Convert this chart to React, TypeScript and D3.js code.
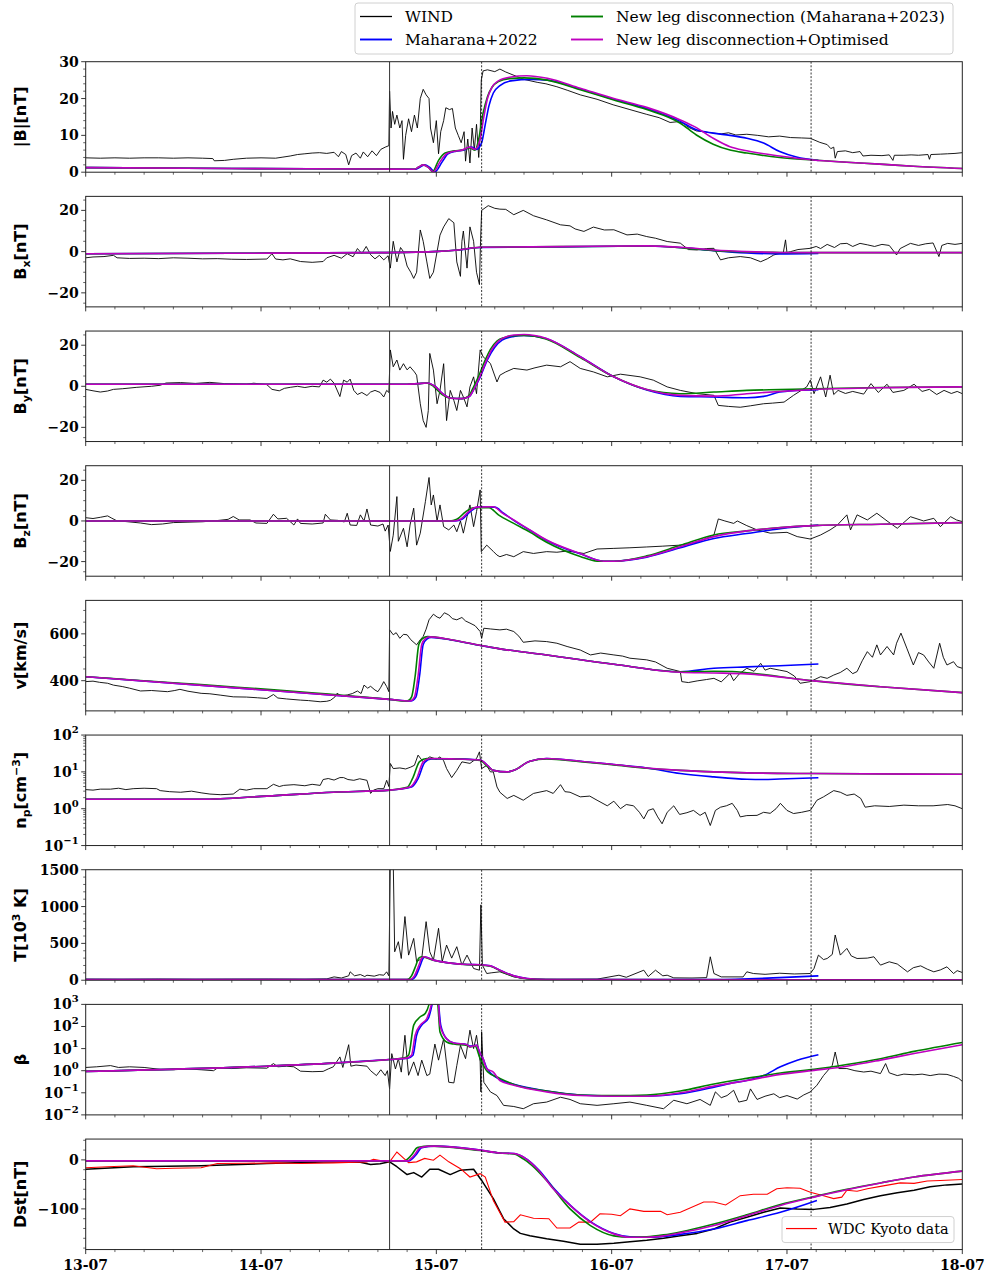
import React from 'react';
import * as d3 from 'd3';

type P = [number, number][];

// ---------- axis / annotation values ----------
const dayLabels = ['13-07', '14-07', '15-07', '16-07', '17-07', '18-07'];
const shockHour = 41.6;
const mcStartHour = 54.2;
const mcEndHour = 99.3;

// ---------- |B| ----------
const bWind: P = [[0,3.9],[2,3.8],[4,3.9],[6,3.8],[8,3.9],[10,3.9],[12,3.8],[14,3.9],[16,3.8],[17.4,3.7],[17.6,3.1],[19,3.2],[20.2,3.5],[22,3.8],[24,3.9],[26,3.8],[27,4.1],[28,4.4],[29,4.8],[30,5.0],[31,5.2],[32,5.3],[33,5.1],[34,5.4],[34.6,4.2],[35,5.6],[35.6,4.8],[36,2.0],[36.4,4.5],[37,5.2],[37.6,3.8],[38,5.5],[38.6,4.2],[39.2,5.8],[39.8,4.5],[40.4,6.2],[41,6.8],[41.5,7.2],[41.6,22],[41.8,12],[42,16.5],[42.3,13],[42.6,15.5],[43,12],[43.3,14],[43.5,3.5],[43.8,10],[44.2,14.5],[44.6,11],[45,15.5],[45.4,12],[45.8,20],[46.2,22.5],[46.6,21],[47,20],[47.2,12],[47.6,8],[48,14],[48.3,5],[48.6,11],[49,14],[49.3,17.5],[49.8,17],[50.2,17.3],[50.6,12],[51,10],[51.4,8],[51.8,11],[52,3],[52.3,9],[52.6,2.5],[52.9,12],[53.2,6],[53.5,13],[53.8,4],[54,10],[54.15,25],[54.4,27.5],[55,27.8],[56,27.3],[56.7,28],[57.5,27.2],[58.5,26.4],[60,25.2],[61.8,24.4],[63,24],[64.5,23.2],[66,22.2],[67.7,21],[70,19.8],[72.2,18.3],[74.5,17],[76.8,15.7],[78.5,14.8],[80,13.5],[81,13.7],[81.8,13.3],[82.5,12.2],[83.6,11.2],[84.5,11],[85.9,10.6],[87,10.4],[88,10.7],[89,10.1],[90.5,10.3],[92,10],[93.5,9.6],[95,9.8],[96.5,9.4],[98,9.3],[99.2,9.2],[100.5,8.1],[101.5,7.5],[102,6.4],[102.4,6.8],[102.6,3.8],[102.9,5.6],[104,5.8],[105,5.3],[106,5.6],[106.4,4.4],[107.5,4.6],[109,4.5],[110,4.7],[110.5,3.2],[110.7,4.6],[112,4.6],[113,4.7],[114,4.6],[115.3,4.8],[115.5,3.5],[115.7,4.8],[117,4.9],[118,5.0],[119,5.1],[120,5.3]];
const bM22: P = [[0,1.25],[20,1.0],[40,0.85],[45.2,0.8],[45.8,1.4],[46.4,2.0],[47.1,1.3],[47.8,0.1],[48.8,2.8],[49.6,5.0],[50.7,5.7],[51.7,6.0],[52.8,6.8],[53.5,6.2],[54.2,8],[54.7,13],[55.2,18],[55.8,21.5],[56.7,23.5],[58.2,24.8],[61,25.2],[63.2,25],[67.7,22.6],[72.3,19.8],[76.8,17.3],[81.4,13.8],[83.6,11.5],[85.9,10.6],[88.2,10],[90.5,9.2],[92.8,7.9],[95,5.6],[97.3,4.1],[100.3,3.2]];
const bLeg23: P = [[0,1.25],[20,1.0],[40,0.85],[45,0.8],[45.6,1.4],[46.2,2.0],[46.9,1.3],[47.5,0.2],[48.3,3.2],[49.2,5.2],[50.5,5.8],[51.5,6.0],[52.6,6.6],[53.3,6.0],[53.8,9],[54.4,16],[55,20.5],[55.6,23],[56.5,24.6],[58,25.4],[60,25.6],[63.2,25],[67.7,22.4],[72.3,19.6],[76.8,17],[81.4,13.3],[83.6,10.1],[85.9,7.6],[88.2,6.0],[90.5,5.2],[95,4.0],[99.6,3.3],[104.2,2.7],[108.7,2.2],[113.3,1.6],[120,1.0]];
const bOpt: P = [[0,1.25],[20,1.0],[40,0.85],[45,0.8],[45.6,1.4],[46.2,2.0],[46.9,1.3],[47.6,0.1],[48.5,2.8],[49.4,5.0],[50.5,5.7],[51.5,6.0],[52.6,6.8],[53.3,6.2],[54,9],[54.5,15],[55,20],[55.6,23],[56.5,24.8],[58,25.8],[60.4,26.2],[63.2,25.5],[67.7,22.8],[72.3,20],[76.8,17.6],[81.4,14.2],[83.6,12.1],[85.9,9.2],[88.2,6.9],[90.5,5.8],[95,4.4],[99.6,3.3],[104.2,2.7],[108.7,2.2],[113.3,1.6],[120,1.0]];

// ---------- Bx ----------
const bxWind: P = [[0,-3],[1,-2.6],[2.5,-2.4],[3.8,-1.8],[4.3,-3],[6,-3.3],[8,-3.2],[10,-3.4],[12,-3],[14,-3.2],[16,-3.5],[18,-3.4],[20,-3.7],[22,-3.8],[24.8,-3.6],[25.5,-1],[26,-3.6],[27,-4],[28,-3.5],[29.4,-4.8],[31,-5.2],[32.5,-4.8],[33,-3],[34,-1.8],[35,-3.2],[35.8,-1],[36.6,-2.5],[37.2,1.5],[37.8,-1],[38.4,2.5],[39,-1.5],[39.6,-3.5],[40.2,-1.8],[40.8,-4],[41.4,-2],[41.7,-8],[42.1,5],[42.6,-5],[43.1,2],[43.5,0],[44,-7],[44.5,-10],[44.9,-13],[45.3,-10],[45.8,10.5],[46.2,5],[46.7,-5],[47.1,-13],[47.6,-10],[48.1,0],[48.5,8],[49,12],[49.7,16],[50.4,14],[50.8,-5],[51.3,-12],[51.5,5],[51.7,10],[52.2,-8],[52.6,12],[53.1,5],[53.5,-10],[53.9,-16],[54.05,5],[54.2,20],[55.1,22.3],[56,21],[56.7,20.6],[57.5,20.5],[58.6,17.9],[59.9,20],[61.3,17.4],[63.1,15.4],[65,13],[66.3,12.5],[67,11],[68.2,9.8],[69.5,11.9],[71,10.5],[72.3,10.6],[74.1,8.1],[75.5,8.5],[76.8,7.3],[78,6.5],[79.6,4.9],[81.4,4.1],[82.5,1],[83.7,0.8],[85,1.5],[86,1.6],[86.9,-4],[88,-3],[89.6,-2.4],[91,-3],[92.4,-4.9],[93.3,-3.5],[94.2,-1.6],[95.5,-0.5],[95.8,5.7],[96,-0.5],[96.5,0],[97.5,1],[99.2,1.6],[100,2.5],[100.6,1.5],[101.5,3.5],[102.5,2],[103.3,3.8],[104.2,4],[105,2.5],[106,4],[107,3.3],[108,2.5],[109,3.5],[110,3],[111,-1.6],[111.5,1.5],[112.9,4],[114,3],[115,3.8],[116,4.2],[116.8,-2.4],[117.2,3],[118,4],[119,3.5],[120,4]];
const bxM22: P = [[0,-1],[20,-0.8],[40,-0.5],[47.6,0],[51,0.8],[54,2.0],[65,2.3],[77,2.7],[82,1.8],[86,0.5],[90.5,-0.6],[95,-1.1],[100.3,-0.9]];
const bxLeg23: P = [[0,-1],[20,-0.8],[40,-0.5],[47.6,0],[51,0.8],[54,2.1],[65,2.4],[77,2.7],[82,1.7],[86,0.5],[90.5,-0.2],[95,-0.4],[100,-0.5],[120,-0.5]];
const bxOpt: P = [[0,-1],[20,-0.8],[40,-0.5],[47.6,0],[51,0.8],[54,2.1],[65,2.4],[77,2.8],[82,2],[86,0.8],[90.5,0],[95,-0.4],[100,-0.5],[120,-0.5]];

// ---------- By ----------
const byWind: P = [[0,-1.5],[1,-2.2],[2,-2.8],[3,-2.3],[3.8,-1.5],[5,-1.2],[7,-0.5],[9,0],[10.2,0.5],[11,1.6],[13,1.8],[15,1.4],[17,1.9],[19,1.3],[20.2,1.2],[22,1],[23,1.5],[24.8,0.8],[25.5,-1.5],[26.5,-2.2],[27.2,-1],[28,-0.5],[29,0],[30,-0.6],[31,0],[32,-0.3],[32.5,3],[33,2],[33.5,3.5],[34,1.5],[34.8,-5],[35.3,3],[35.8,2],[36.2,3.5],[36.7,-2],[37.2,-4],[37.8,-3],[38.5,-4.5],[39,-2.8],[39.6,-2],[40.3,-3],[40.8,-5.2],[41.2,-2],[41.5,-3],[41.7,17.7],[42.1,9.5],[42.6,12.8],[43,7.9],[43.5,11],[44,8],[44.4,9.5],[45,7],[45.3,5.4],[45.8,-8.5],[46.2,-16.7],[46.6,-20],[46.9,-11.8],[47.1,16],[47.6,7.9],[48.1,-8.5],[48.5,-2],[49,11],[49.4,-16.7],[49.9,-2],[50.4,-6.9],[50.8,-11.8],[51.3,-2],[51.7,-5.2],[52.2,-10],[52.6,-0.3],[53.1,4.6],[53.5,-3.6],[54,17.7],[54.4,14.4],[55.4,11.1],[56.3,2.1],[56.7,5.4],[57.5,7],[58.6,8.7],[60.4,7.9],[61.5,9],[63.1,10.3],[65,9.5],[66.3,12],[67.7,8.7],[69.5,7],[71.4,4.6],[73.2,5.9],[75.9,4.6],[77.7,3],[79.6,-0.3],[81.4,-2],[83.7,-3.6],[86,-4.4],[86.6,-9.3],[88,-9.8],[89.6,-10.2],[91,-9.5],[92.8,-8.5],[94,-8.2],[95.6,-7.7],[96.9,-4.4],[98.7,-0.3],[99.2,3],[99.7,-3.6],[100.6,4.6],[101.3,-5.2],[101.9,5.4],[102.4,-4],[103,-2],[104,-3.5],[105,-2.5],[106.5,-3.8],[107.5,1.3],[108.5,-3],[109.7,1],[110.5,-3],[112,-2],[113.4,1],[114.5,-2.5],[115.5,-1.5],[116.5,-4],[117.5,-2],[118.5,-3.5],[119.3,-2.5],[120,-3.6]];
const byM22: P = [[0,1],[44,1],[45.5,1.3],[46.7,1.6],[47.8,0],[49,-4],[50,-5.8],[51.5,-6],[52.5,-5],[53.2,-1],[54,4.5],[55,13],[56,19],[57,22.5],[58.6,24.3],[60,24.8],[63,23.3],[67.7,14.4],[72.3,4.6],[76.8,-1.8],[81.4,-4.9],[86,-5.2],[90.5,-5.6],[92.8,-4.9],[95,-2.8],[97.3,-2],[100.3,-1.6]];
const byLeg23: P = [[0,1],[44,1],[45.5,1.3],[46.7,1.6],[47.6,0],[48.8,-4],[50,-5.8],[51.5,-6],[52.5,-4.5],[53,-1],[53.8,5],[54.6,12],[55.4,18],[56.3,22],[57.4,23.8],[58.6,24.6],[60,24.7],[63,23],[67.7,14],[72.3,4.6],[76.8,-1.6],[81.4,-3.6],[86,-2.8],[90.5,-2],[95,-1.6],[99.7,-1.2],[108.8,-0.6],[120,-0.3]];
const byOpt: P = [[0,1],[44,1],[45.5,1.3],[46.7,1.6],[47.8,0],[49,-4],[50,-5.8],[51.5,-6],[52.5,-5],[53.2,-1],[54,5],[54.8,12],[55.6,18],[56.5,22],[57.5,24],[58.6,25],[60,25.2],[63,23.4],[67.7,14.4],[72.3,4.6],[76.8,-1.6],[81.4,-4.4],[86,-4.8],[90.5,-3.6],[95,-2.5],[99.7,-1.6],[108.8,-0.7],[120,-0.3]];

// ---------- Bz ----------
const bzWind: P = [[0,1.6],[1,1.2],[2,1.8],[3,2.5],[3.5,1.5],[4.3,0],[5.5,-0.3],[7.5,-1],[9,-1.8],[10.5,-1.5],[12,-0.8],[14,-0.6],[16,-0.4],[18,0.2],[19.5,0.8],[20.2,2.2],[21,0.5],[22.5,0.5],[23.3,-1],[24.8,-1.2],[25.7,3.3],[26.3,1],[27.5,1.3],[28.5,-2],[29,1],[29.4,-1.2],[31,-1.5],[32.5,-1],[32.8,3.3],[33.5,0.5],[34.5,0.3],[35.4,-0.5],[35.8,3.8],[36.2,-2],[37.1,-2.2],[37.6,3],[38.1,0],[38.5,5.9],[39,-2],[40,-2.5],[40.7,-1.5],[41,-5],[41.4,-2],[41.7,-15],[42.1,-7],[42.6,12],[42.8,-10],[43.5,-3.6],[44,-12.7],[44.4,-2],[44.9,6.3],[45.3,-11.9],[45.8,-6],[46.5,9.5],[47,21.4],[47.3,7.9],[47.6,12.8],[48.1,0],[48.5,7.9],[49,-2.8],[49.7,-4.4],[50.4,-2],[50.8,-5.3],[51.3,0],[51.7,-6],[52.2,2.1],[52.6,7.9],[53.1,-2.8],[53.5,4.6],[54,15.3],[54.15,-15.1],[54.9,-11.9],[55.8,-15],[56.3,-16.8],[56.7,-17.6],[57.6,-16.5],[58.6,-17.6],[59.9,-15.1],[61.3,-16],[63.1,-15.1],[64.5,-15.4],[65.9,-14.8],[68.2,-16],[70,-13.8],[72.3,-13.5],[74.5,-13.2],[76.8,-12.8],[79,-12.4],[81.4,-11.9],[83.7,-10.5],[86,-6.9],[86.6,1],[87.5,0],[88.7,-1.2],[89.2,0],[90.5,-2.3],[91.9,-4.4],[93.7,-6],[96,-5.6],[97.4,-7.7],[99.2,-8.9],[100.6,-6.9],[101.9,-4.4],[102.9,-2],[104.2,3],[104.7,-4.4],[105.6,3],[107,0.5],[108.3,3.8],[109.7,0],[111.1,-3.6],[112.9,2.1],[114.7,0],[116.1,1.3],[117,-2.8],[118.4,2.1],[119.2,0.5],[120,-0.3]];
const bzM22: P = [[0,0],[50.6,0],[51.5,0.8],[52.6,4.5],[53.7,6.8],[56,6.8],[57.2,3.8],[58.6,0.3],[60.8,-4.6],[63.1,-9.6],[67.7,-16.2],[70.9,-19.8],[72.3,-19.8],[76.8,-17.8],[81.4,-13.2],[86,-8.6],[90.5,-6.2],[95.1,-3.8],[100.3,-2]];
const bzLeg23: P = [[0,0],[49.8,0],[50.8,0.8],[52,4.5],[53.1,6.5],[55.2,6.5],[56.5,3],[58.6,-1.2],[60.8,-5.5],[63.1,-10.5],[67.7,-17.5],[70,-19.8],[72.3,-19.8],[76.8,-17.2],[81.4,-12],[86,-6.9],[90.5,-4.9],[95.1,-3.3],[99.7,-2.3],[108.8,-1.6],[120,-0.8]];
const bzOpt: P = [[0,0],[50.4,0],[51.3,0.8],[52.4,4.5],[53.5,6.8],[55.8,7],[57,4],[58.6,0.5],[60.8,-4.4],[63.1,-9.4],[67.7,-16],[70.9,-19.8],[72.3,-19.8],[76.8,-17.6],[81.4,-12.7],[86,-7.7],[90.5,-4.9],[95.1,-3.3],[99.7,-2.3],[108.8,-1.6],[120,-0.8]];

// ---------- v ----------
const vWind: P = [[0,396],[1,398],[1.9,393],[3,389],[3.8,381],[5,375],[6,368],[7.5,356],[9,358],[11.2,353],[12.2,358],[12.9,363],[14,355],[15.8,346],[17,344],[18.5,338],[20.2,331],[22,330],[23.5,327],[24.8,324],[25.7,341],[26.3,326],[27.5,322],[29.4,317],[30.5,315],[32.1,310],[33,312],[33.5,316],[34.1,330],[34.4,346],[35,335],[35.8,339],[36.5,345],[37.2,356],[37.7,345],[38.1,381],[38.6,368],[39,376],[39.6,360],[40,353],[40.4,372],[40.8,396],[41.2,375],[41.5,353],[41.6,617],[42.1,596],[42.5,605],[43,581],[43.5,598],[44,596],[44.5,575],[45.3,553],[45.8,575],[46.2,589],[46.6,620],[47,660],[47.6,684],[48.1,672],[48.5,667],[49.1,690],[49.7,681],[50.2,665],[50.8,660],[51.5,670],[52,655],[52.6,646],[53.3,635],[54,610],[54.2,581],[54.5,624],[55.4,621],[56.7,617],[57.6,620],[58.6,610],[59.3,590],[59.9,564],[61.5,570],[63.1,567],[64.5,560],[65.9,546],[67.7,531],[69.1,510],[70.5,518],[72.3,510],[73.5,505],[74.5,496],[76.8,489],[78,480],[79.6,453],[81.4,439],[81.6,396],[82.5,392],[83.7,399],[85,405],[86,410],[87,395],[88.2,431],[88.7,400],[89.5,430],[90.5,453],[91.5,440],[92.4,474],[93,445],[93.7,453],[95,445],[96,439],[97,420],[97.8,389],[99.2,396],[100.6,417],[101.5,410],[102.4,424],[103.3,435],[104.2,453],[105,430],[105.6,439],[106.3,485],[107,524],[107.7,500],[108.3,553],[108.8,510],[109.7,546],[110.6,510],[111,560],[111.6,603],[112.4,539],[113.3,467],[114,520],[114.7,510],[115.4,480],[116.1,453],[116.9,560],[117.4,500],[117.9,467],[118.8,481],[119.3,460],[120,453]];
const vM22: P = [[0,417],[41.6,320],[44.5,313],[45.2,330],[45.7,420],[46.2,555],[46.7,578],[47.3,585],[50,574],[54.1,550],[56.7,536],[63.1,510],[72.3,470],[81.4,438],[86,453],[90.5,459],[95,464],[100.3,471]];
const vLeg23: P = [[0,417],[41.6,320],[44,313],[44.6,330],[45.1,420],[45.6,555],[46.1,580],[46.8,588],[50,575],[54.1,550],[56.7,536],[63.1,510],[72.3,470],[81.4,438],[86,440],[88.5,439],[90.5,434],[99.7,399],[108.8,374],[120,349]];
const vOpt: P = [[0,417],[41.6,320],[44.4,313],[45,330],[45.5,420],[46,555],[46.5,580],[47.1,587],[50,575],[54.1,550],[56.7,536],[63.1,510],[72.3,470],[81.4,436],[86,433],[90.5,429],[99.7,399],[108.8,374],[120,349]];

// ---------- np ----------
const npWind: P = [[0,3.3],[1,3.2],[2,3.4],[3.4,3.4],[4.5,3.6],[5.5,3.3],[6.5,3.5],[8,3.6],[9.7,3.5],[10.2,3.1],[11.5,2.9],[13,2.8],[14.5,3.0],[15.8,2.7],[17,2.5],[18.5,2.4],[20.2,2.5],[21.1,3.4],[22,3.2],[23,3.5],[24.8,3.5],[25.7,4.6],[26.5,4.0],[27.1,4.3],[28.5,4.5],[30,4.2],[31,4.6],[32.1,4.3],[32.5,6.2],[33.2,6.6],[34,6.0],[34.8,7.0],[35.3,7.0],[35.9,6.2],[36.7,5.9],[37.5,6.5],[38.5,5.9],[39,2.6],[39.4,3.2],[40,3.5],[40.8,3.5],[41.2,5.9],[41.5,4],[41.7,16.9],[42.1,12.3],[43,12.8],[43.8,12],[44.5,13.5],[45,15.1],[45.5,28.5],[46.2,18.7],[47.1,25.6],[48,22],[48.5,25.6],[49,20],[49.4,12.3],[50.1,7],[50.8,11],[51.5,18.7],[52.6,17],[53.5,23],[53.9,35],[54.2,12.3],[54.9,15],[55.4,10],[55.8,10],[56.3,3.9],[56.7,2.8],[57.7,1.9],[58.6,2.3],[59.9,1.7],[61.3,2.6],[63.1,3.1],[64,2.6],[65,4.5],[65.6,2.9],[66.3,2.8],[67.7,2.1],[69,2.2],[70,1.7],[71.4,1.2],[72.3,1.6],[73.2,1.0],[74,1.3],[75,1.2],[75.8,0.8],[76.4,0.53],[77,0.9],[77.7,1.0],[78.3,0.6],[78.9,0.39],[79.6,0.8],[80.5,1.2],[81.3,0.7],[82.3,0.78],[83.2,0.9],[84.1,0.66],[84.8,0.8],[85.5,0.35],[86.2,0.9],[86.9,1.1],[87.7,1.2],[88.5,1.4],[89.2,0.9],[89.6,0.6],[90.5,0.65],[91.9,0.66],[92.8,0.8],[93.7,0.75],[94.5,1.0],[95.1,1.4],[96,0.9],[96.9,0.74],[98,0.8],[99.2,0.9],[100.1,1.7],[101,2.1],[102.4,3.1],[103.3,2.8],[104.2,2.3],[105.2,2.5],[106.1,1.9],[106.7,1.1],[108,1.2],[110,1.15],[112,1.25],[114,1.2],[116,1.2],[118,1.3],[119,1.2],[120,1.0]];
const npM22: P = [[0,1.8],[15.8,1.8],[24.8,2.2],[33.9,2.8],[41.6,3.2],[44.6,3.9],[45.5,6.6],[46.4,18],[47.3,22.5],[50,22.5],[54,21],[55,15],[55.8,11],[57.7,10],[58.6,11],[60.8,19.5],[63.1,23],[67.7,19.5],[72.3,15.8],[76.8,12.8],[81.4,9],[86,7.3],[90.5,6.3],[92.8,6.2],[95,6.4],[100.3,6.9]];
const npLeg23: P = [[0,1.8],[15.8,1.8],[24.8,2.2],[33.9,2.8],[41.6,3.2],[44,3.8],[44.8,7],[45.7,19],[46.7,23],[50,22.5],[54,20.5],[55,14],[55.8,11],[57.7,10],[58.6,11],[60.8,19.5],[63.1,22.5],[67.7,19],[72.3,15.5],[76.8,12.6],[81.4,11],[86,10],[90.5,9.4],[99.7,9],[120,8.6]];
const npOpt: P = [[0,1.8],[15.8,1.8],[24.8,2.2],[33.9,2.8],[41.6,3.2],[44.4,3.9],[45.3,6.6],[46.2,18.7],[47.1,23],[50,22.5],[54,21],[55,15],[55.8,11],[57.7,10],[58.6,11],[60.8,19.5],[63.1,23],[67.7,19.5],[72.3,15.8],[76.8,12.8],[81.4,11],[86,10],[90.5,9.4],[99.7,9],[120,8.6]];

// ---------- T (10^3 K) ----------
const tWind: P = [[0,14],[5,12],[10,15],[15,12],[20,14],[25,15],[30,13],[33,18],[34,45],[35,30],[36,60],[36.2,114],[36.8,60],[37.6,77],[38.2,50],[38.5,68],[39.5,55],[40.2,75],[40.8,68],[41.2,114],[41.5,60],[41.7,1600],[42.1,1600],[42.3,386],[42.8,523],[43.2,295],[43.7,864],[44.2,341],[44.9,568],[45.3,250],[46,295],[46.6,795],[47.1,386],[47.6,273],[48.3,705],[48.8,250],[49.4,477],[50.1,300],[50.8,455],[51.5,205],[52.2,341],[53.1,159],[53.9,136],[54.1,1023],[54.3,205],[54.9,91],[55.5,100],[56.7,114],[58.6,45],[61,14],[65,12],[70,15],[73,68],[74,40],[76.4,136],[77,50],[78,136],[79,60],[79.6,68],[80.5,32],[83,30],[85,35],[85.5,318],[86,91],[87,45],[90,45],[90.5,114],[91.4,91],[93,80],[95,95],[97,85],[99.2,91],[99.7,159],[100.3,341],[101,280],[101.5,295],[102.2,350],[102.6,614],[103.3,341],[104.2,432],[104.8,330],[105.6,295],[107,300],[107.9,318],[108.8,205],[110,250],[111.1,220],[112.5,114],[113.3,170],[114.3,195],[115.2,150],[116.1,114],[117,140],[117.9,182],[118.8,91],[119.3,130],[120,105]];
const tM22: P = [[0,10],[44.6,10],[45.2,60],[45.8,200],[46.2,300],[46.5,315],[47.6,273],[52.2,214],[54,210],[55.4,195],[56.7,136],[58.6,59],[60.4,23],[63,9],[86,10],[95,35],[100.3,59]];
const tLeg23: P = [[0,10],[44,10],[44.6,60],[45.2,200],[45.6,300],[46,318],[47.6,270],[52.2,212],[54,205],[55.4,190],[56.7,130],[58.6,55],[60.4,20],[63,9],[100,5],[120,5]];
const tOpt: P = [[0,10],[44.4,10],[45,60],[45.6,200],[46,300],[46.3,318],[47.6,273],[52.2,214],[54,210],[55.4,195],[56.7,136],[58.6,59],[60.4,23],[63,9],[100,5],[120,5]];

// ---------- beta ----------
const betaWind: P = [[0,1.4],[1.5,1.5],[3.4,1.7],[4.5,1.4],[6,1.5],[8,1.4],[10.2,1.15],[12,1.1],[14,1.2],[15.8,1.1],[17.5,1.0],[18,1.3],[20,1.25],[22,1.35],[24.8,1.3],[25.7,2.1],[26.3,1.5],[27.5,1.6],[28.5,1.5],[29.4,0.95],[31,0.9],[32.5,0.93],[33.2,1.2],[33.9,1.5],[34.8,4.2],[35.2,1.4],[36,15],[36.3,1.6],[37,1.8],[38.5,1.6],[39,1.0],[39.8,0.6],[40.4,1.1],[41,0.6],[41.3,1.0],[41.6,0.15],[41.9,5.9],[42.4,1.2],[42.8,3.5],[43.2,0.86],[43.7,40],[44.2,0.62],[44.9,2.5],[45.5,0.6],[46,3],[46.7,0.6],[47.1,0.7],[47.8,16],[48.3,3],[49,28],[49.7,0.3],[50.4,0.28],[50.8,1.7],[51.3,14],[52,3.5],[52.6,68],[53.1,10],[53.5,40],[54,2.5],[54.1,0.11],[54.2,57],[54.5,0.3],[55.4,0.11],[56.3,0.075],[57.2,0.027],[58.6,0.024],[59.9,0.019],[61.3,0.032],[63.1,0.038],[65,0.063],[66.3,0.05],[67.7,0.032],[70,0.027],[72.3,0.032],[74.5,0.038],[76.8,0.027],[79.1,0.019],[80.5,0.046],[82.3,0.032],[84.1,0.05],[85.5,0.027],[86.2,0.11],[87,0.06],[87.8,0.075],[88.7,0.13],[89.4,0.038],[90.5,0.046],[91,0.15],[91.9,0.05],[93,0.07],[94.2,0.09],[95,0.06],[96,0.075],[97.4,0.052],[98.3,0.08],[99.2,0.11],[100.1,0.22],[101,0.6],[102.2,1.75],[102.6,7],[103.1,1.25],[104.2,1.25],[105.3,1.0],[106.5,0.87],[107.5,0.95],[108.8,0.74],[109.5,2.1],[110,0.8],[111.1,0.6],[112,0.7],[113.4,0.65],[114.5,0.7],[115.6,0.6],[116.8,0.7],[117.9,0.68],[118.8,0.55],[119.5,0.45],[120,0.33]];
const betaM22: P = [[0,0.93],[24.8,1.6],[33.9,2.2],[41.6,3.2],[44.1,3.7],[44.8,5],[45.3,40],[46,115],[46.9,230],[47.4,930],[47.7,3000],[48,3000],[48.3,1000],[48.6,115],[49.4,28],[50.4,18],[52.2,15],[52.6,13],[53.5,14],[54,6],[54.4,3.5],[54.9,1.3],[56.7,0.4],[58.6,0.24],[63.1,0.12],[67.7,0.08],[72.3,0.072],[76.8,0.07],[81.4,0.09],[86,0.18],[88.5,0.28],[90.5,0.36],[92.8,0.6],[95.1,1.5],[97.4,3.0],[100.3,5.3]];
const betaLeg23: P = [[0,0.93],[24.8,1.6],[33.9,2.2],[41.6,3.2],[43.5,3.7],[44.2,5],[44.9,115],[45.8,275],[46.5,400],[47,1000],[47.3,3000],[47.9,3000],[48.2,1000],[48.5,57],[49.4,20],[50.4,16],[52.2,14],[52.6,12],[53.3,13],[54,3.5],[55,0.9],[56.7,0.45],[58.6,0.24],[63.1,0.12],[67.7,0.08],[72.3,0.075],[76.8,0.08],[81.4,0.12],[86,0.25],[90.5,0.45],[95.1,0.78],[99.7,1.15],[104.2,1.9],[108.8,3.5],[113.4,7.5],[120,19]];
const betaOpt: P = [[0,0.93],[24.8,1.6],[33.9,2.2],[41.6,3.2],[43.9,3.7],[44.6,5],[45.1,40],[45.8,115],[46.7,230],[47.3,930],[47.6,3000],[48,3000],[48.3,1000],[48.5,115],[49.4,28],[50.4,18],[52.2,15],[52.6,12],[53.5,14],[54,6],[54.4,3.5],[54.9,1.2],[55.8,0.87],[56.7,0.36],[58.6,0.22],[63.1,0.11],[67.7,0.075],[72.3,0.07],[76.8,0.07],[81.4,0.1],[86,0.2],[90.5,0.36],[95.1,0.68],[99.7,1.03],[104.2,1.6],[108.8,3.0],[113.4,6],[120,15]];

// ---------- Dst ----------
const dstWind: P = [[0,-19],[6.5,-14],[15.8,-12],[24.8,-7.5],[33.9,-4],[37.6,-5],[39,-9.6],[40.3,-8],[41.6,-4],[42.6,-14],[44,-30],[44.9,-26],[46,-35],[47.1,-19],[48.3,-19],[49.9,-30],[51.3,-21],[53.1,-19],[54.2,-42],[55.8,-79],[57.2,-120],[58.6,-141],[59.5,-150],[60.8,-155],[63.1,-161],[65.4,-166],[67.7,-172],[70,-172],[72.3,-170],[74.5,-167],[76.8,-164],[79.1,-160],[81.4,-155],[83.7,-150],[86,-141],[88.2,-127],[90.5,-117],[92.8,-107],[95.1,-98],[97.4,-100],[99.7,-101],[101.9,-97],[104.2,-90],[106.5,-81],[108.8,-73],[111.1,-67],[113.4,-62],[115.6,-55],[117.9,-51],[120,-49]];
const dstKyoto: P = [[0,-16],[3,-14],[6.5,-12],[9.7,-18],[12,-17],[15.8,-16],[18,-7.5],[22,-7],[26,-6],[29.4,-7.5],[33.9,-6],[36,-5],[38.5,-4],[39.4,1.4],[40.5,-2],[41.6,-4],[42.6,16],[44.2,-5.5],[45.3,-4],[46.4,3],[47.6,-0.7],[48.5,9.6],[49.7,-4],[51.3,-18],[52.6,-35],[54,-28],[54.7,-35],[55.8,-83],[57.4,-127],[58.6,-126],[59.5,-112],[61.3,-119],[63.4,-120],[64.5,-139],[66.3,-139],[67.5,-127],[69.1,-127],[70.4,-110],[72,-111],[73.2,-114],[74.5,-100],[76.4,-105],[78.7,-105],[79.6,-112],[81.4,-107],[84.6,-86],[86,-86],[87.6,-92],[89.6,-73],[91.4,-70],[93.3,-70],[94.6,-59],[96,-57],[97.8,-58],[99.2,-66],[101,-73],[102.4,-79],[103.5,-76],[104.2,-62],[105.6,-64],[107,-59],[108.8,-54],[111.5,-47],[113.4,-48],[115.2,-43],[117,-42],[120,-40]];
const dstM22: P = [[0,-2],[44.2,-2],[45.2,10],[46,25],[47.8,28],[54,20],[56.7,14],[58.6,13],[60,5],[62,-20],[64.2,-60],[66.5,-95],[69.3,-128],[72.3,-150],[74.5,-157],[76.8,-158],[79.1,-156],[81.4,-152],[86,-141],[90.5,-124],[95.1,-107],[100.1,-83]];
const dstLeg23: P = [[0,-2],[43.6,-2],[44.6,10],[45.4,25],[47.2,28],[54,19],[56.7,14],[58.6,12],[59.9,2],[61,-10],[63.1,-42],[66.3,-100],[69.1,-134],[72.3,-155],[74.5,-158],[76.8,-157],[79.1,-153],[81.4,-147],[86,-131],[90.5,-112],[95.1,-91],[99.7,-75],[104.2,-60],[108.8,-47],[113.4,-35],[120,-23]];
const dstOpt: P = [[0,-2],[44,-2],[45,10],[45.8,25],[47.6,28],[54,20],[56.7,14],[58.6,13],[59.9,6],[61.8,-18],[64,-59],[66.3,-93],[69.1,-127],[72.3,-151],[74.5,-158],[76.8,-158],[79.1,-155],[81.4,-149],[86,-134],[90.5,-114],[95.1,-93],[99.7,-76],[104.2,-61],[108.8,-47],[113.4,-35],[120,-23]];

// ---------- layout ----------
const W = 987;
const H = 1276;
const X0 = 85.7;
const X1 = 962.3;
const TOP0 = 61.7;
const STEP = 134.67;
const PH = 110.5;
const COL = { wind: '#000000', m22: '#0000ff', leg23: '#008000', opt: '#bf00bf', kyoto: '#ff0000' };
const TICK_FONT = "'DejaVu Serif', serif";
const LABEL_FONT = "'DejaVu Sans', sans-serif";

const x = d3.scaleLinear().domain([0, 120]).range([X0, X1]);

type PanelDef = {
  key: string;
  domain: [number, number];
  log?: boolean;
  ticks: number[];
  minor: number[];
  label: React.ReactNode;
  wind: P;
  windWidth?: number;
  kyoto?: P;
  m22: P;
  leg23: P;
  opt: P;
};

const sub = (s: string) => [
  <tspan key="a" dy={4} fontSize={12}>{s}</tspan>,
  <tspan key="b" dy={-4}>{''}</tspan>,
];

const panels: PanelDef[] = [
  { key: 'B', domain: [0, 30], ticks: [0, 10, 20, 30], minor: d3.range(0, 31, 2), label: <>|B|[nT]</>, wind: bWind, m22: bM22, leg23: bLeg23, opt: bOpt },
  { key: 'Bx', domain: [-26.8, 26.8], ticks: [-20, 0, 20], minor: d3.range(-25, 26, 5), label: <>B<tspan dy={4} fontSize={11}>x</tspan><tspan dy={-4}>[nT]</tspan></>, wind: bxWind, m22: bxM22, leg23: bxLeg23, opt: bxOpt },
  { key: 'By', domain: [-26.9, 26.9], ticks: [-20, 0, 20], minor: d3.range(-25, 26, 5), label: <>B<tspan dy={4} fontSize={11}>y</tspan><tspan dy={-4}>[nT]</tspan></>, wind: byWind, m22: byM22, leg23: byLeg23, opt: byOpt },
  { key: 'Bz', domain: [-27.2, 27.2], ticks: [-20, 0, 20], minor: d3.range(-25, 26, 5), label: <>B<tspan dy={4} fontSize={11}>z</tspan><tspan dy={-4}>[nT]</tspan></>, wind: bzWind, m22: bzM22, leg23: bzLeg23, opt: bzOpt },
  { key: 'v', domain: [271, 743], ticks: [400, 600], minor: d3.range(300, 741, 50), label: <>v[km/s]</>, wind: vWind, m22: vM22, leg23: vLeg23, opt: vOpt },
  { key: 'np', domain: [0.1, 100], log: true, ticks: [0.1, 1, 10, 100], minor: [-1, 0, 1].flatMap(e => d3.range(2, 10).map(k => k * Math.pow(10, e))), label: <>n<tspan dy={4} fontSize={11}>p</tspan><tspan dy={-4}>[cm</tspan><tspan dy={-6} fontSize={11}>−3</tspan><tspan dy={6}>]</tspan></>, wind: npWind, m22: npM22, leg23: npLeg23, opt: npOpt },
  { key: 'T', domain: [0, 1500], ticks: [0, 500, 1000, 1500], minor: d3.range(0, 1501, 100), label: <>T[10<tspan dy={-6} fontSize={11}>3</tspan><tspan dy={6}> K]</tspan></>, wind: tWind, m22: tM22, leg23: tLeg23, opt: tOpt },
  { key: 'beta', domain: [0.01, 1000], log: true, ticks: [0.01, 0.1, 1, 10, 100, 1000], minor: [], label: <>β</>, wind: betaWind, m22: betaM22, leg23: betaLeg23, opt: betaOpt },
  { key: 'Dst', domain: [-183, 42.5], ticks: [-100, 0], minor: d3.range(-180, 41, 20), label: <>Dst[nT]</>, wind: dstWind, windWidth: 1.5, kyoto: dstKyoto, m22: dstM22, leg23: dstLeg23, opt: dstOpt },
];

function tickLabel(v: number, log?: boolean) {
  if (log) {
    const e = Math.round(Math.log10(v));
    const es = e < 0 ? '−' + Math.abs(e) : String(e);
    return <>10<tspan dy={-7} fontSize={10}>{es}</tspan></>;
  }
  return v < 0 ? '−' + Math.abs(v) : String(v);
}

function Panel({ def, idx }: { def: PanelDef; idx: number }) {
  const top = TOP0 + idx * STEP;
  const bottom = top + PH;
  const y: any = def.log
    ? d3.scaleLog().domain(def.domain).range([bottom, top])
    : d3.scaleLinear().domain(def.domain).range([bottom, top]);
  const raw = d3.line<[number, number]>().x(d => x(d[0])).y(d => y(d[1]));
  const smooth = d3.line<[number, number]>().x(d => x(d[0])).y(d => y(d[1])).curve(d3.curveMonotoneX);
  const clipId = 'clip-' + def.key;
  const last = idx === panels.length - 1;
  const xMinor = d3.range(0, 121, 4).filter(h => h % 24 !== 0);
  const xMajor = d3.range(0, 121, 24);
  const [dlo, dhi] = def.domain;
  const inDom = (v: number) => v >= Math.min(dlo, dhi) - 1e-9 && v <= Math.max(dlo, dhi) + 1e-9;
  return (
    <g>
      <defs>
        <clipPath id={clipId}>
          <rect x={X0} y={top} width={X1 - X0} height={PH} />
        </clipPath>
      </defs>
      <g clipPath={`url(#${clipId})`}>
        <path d={raw(def.wind) || ''} fill="none" stroke={COL.wind} strokeWidth={def.windWidth || 0.9} strokeLinejoin="round" />
        {def.kyoto && <path d={raw(def.kyoto) || ''} fill="none" stroke={COL.kyoto} strokeWidth={1.1} />}
        <path d={smooth(def.m22) || ''} fill="none" stroke={COL.m22} strokeWidth={1.6} />
        <path d={smooth(def.leg23) || ''} fill="none" stroke={COL.leg23} strokeWidth={1.6} />
        <path d={smooth(def.opt) || ''} fill="none" stroke={COL.opt} strokeWidth={1.6} />
        <line x1={x(shockHour)} x2={x(shockHour)} y1={top} y2={bottom} stroke="#333" strokeWidth={1} />
        <line x1={x(mcStartHour)} x2={x(mcStartHour)} y1={top} y2={bottom} stroke="#000" strokeWidth={0.8} strokeDasharray="2,1.6" />
        <line x1={x(mcEndHour)} x2={x(mcEndHour)} y1={top} y2={bottom} stroke="#000" strokeWidth={0.8} strokeDasharray="2,1.6" />
      </g>
      <rect x={X0} y={top} width={X1 - X0} height={PH} fill="none" stroke="#222" strokeWidth={1} />
      {/* x ticks */}
      {xMinor.map(h => (
        <line key={'xm' + h} x1={x(h)} x2={x(h)} y1={bottom} y2={bottom + 2.5} stroke="#222" strokeWidth={0.7} />
      ))}
      {xMajor.map(h => (
        <line key={'xM' + h} x1={x(h)} x2={x(h)} y1={bottom} y2={bottom + 4.5} stroke="#222" strokeWidth={0.9} />
      ))}
      {last && xMajor.map((h, i) => (
        <text key={'xl' + h} x={x(h)} y={bottom + 20} textAnchor="middle" fontFamily={TICK_FONT} fontWeight="bold" fontSize={14} fill="#000">{dayLabels[i]}</text>
      ))}
      {/* y ticks */}
      {def.minor.filter(v => inDom(v) && !def.ticks.includes(v)).map(v => (
        <line key={'ym' + v} x1={X0} x2={X0 - 2.5} y1={y(v)} y2={y(v)} stroke="#222" strokeWidth={0.7} />
      ))}
      {def.ticks.map(v => (
        <g key={'yM' + v}>
          <line x1={X0} x2={X0 - 4.5} y1={y(v)} y2={y(v)} stroke="#222" strokeWidth={0.9} />
          <text x={X0 - 7} y={y(v) + 5} textAnchor="end" fontFamily={TICK_FONT} fontWeight="bold" fontSize={14} fill="#000">{tickLabel(v, def.log)}</text>
        </g>
      ))}
      <text transform={`translate(26,${(top + bottom) / 2}) rotate(-90)`} textAnchor="middle" fontFamily={LABEL_FONT} fontWeight="bold" fontSize={16} fill="#000">{def.label}</text>
    </g>
  );
}

const legendItems = [
  { label: 'WIND', color: COL.wind, w: 1, col: 0, row: 0 },
  { label: 'Maharana+2022', color: COL.m22, w: 1.6, col: 0, row: 1 },
  { label: 'New leg disconnection (Maharana+2023)', color: COL.leg23, w: 1.6, col: 1, row: 0 },
  { label: 'New leg disconnection+Optimised', color: COL.opt, w: 1.6, col: 1, row: 1 },
];

export default function App() {
  const dstTop = TOP0 + 8 * STEP;
  const dstBottom = dstTop + PH;
  return (
    <svg width={W} height={H} viewBox={`0 0 ${W} ${H}`} style={{ position: 'absolute', left: 0, top: 0, background: '#fff' }}>
      <rect x={0} y={0} width={W} height={H} fill="#fff" />
      {panels.map((p, i) => <Panel key={p.key} def={p} idx={i} />)}
      {/* main legend */}
      <g>
        <rect x={355} y={3} width={598} height={51} rx={3} fill="#fff" stroke="#d0d0d0" strokeWidth={1} />
        {legendItems.map(it => {
          const lx = it.col === 0 ? 360 : 571;
          const ly = it.row === 0 ? 16.5 : 39.5;
          return (
            <g key={it.label}>
              <line x1={lx} x2={lx + 32} y1={ly} y2={ly} stroke={it.color} strokeWidth={it.w + 0.3} />
              <text x={lx + 45} y={ly + 5.5} fontFamily={TICK_FONT} fontSize={15.5} fill="#000">{it.label}</text>
            </g>
          );
        })}
      </g>
      {/* Dst legend */}
      <g>
        <rect x={782} y={dstBottom - 33} width={172} height={26} rx={3} fill="#fff" stroke="#d0d0d0" strokeWidth={1} />
        <line x1={786} x2={817} y1={dstBottom - 21} y2={dstBottom - 21} stroke={COL.kyoto} strokeWidth={1.2} />
        <text x={828} y={dstBottom - 16} fontFamily={TICK_FONT} fontSize={14.5} fill="#000">WDC Kyoto data</text>
      </g>
    </svg>
  );
}
